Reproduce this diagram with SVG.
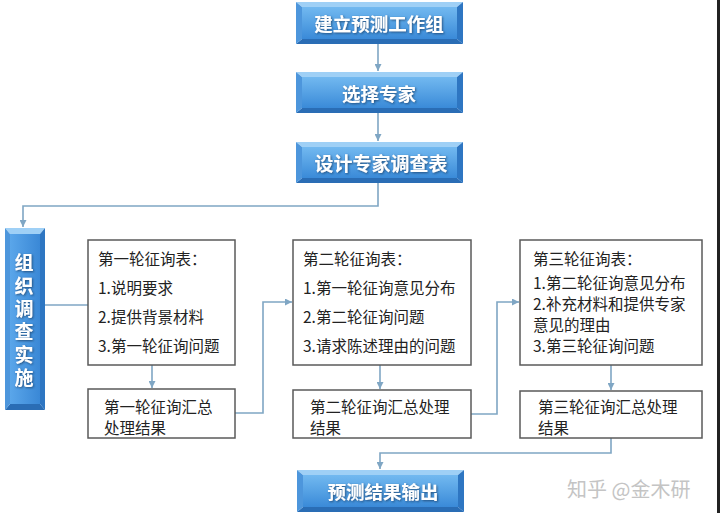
<svg xmlns="http://www.w3.org/2000/svg" width="720" height="513" viewBox="0 0 720 513">
<defs>
  <linearGradient id="face" x1="0" y1="0" x2="0" y2="1">
    <stop offset="0" stop-color="#72b9f0"/>
    <stop offset="1" stop-color="#3a8ad8"/>
  </linearGradient>
  <linearGradient id="faceV" x1="0" y1="0" x2="1" y2="0">
    <stop offset="0" stop-color="#5aa6ea"/>
    <stop offset="1" stop-color="#3a88d6"/>
  </linearGradient>
  <marker id="arr" viewBox="0 0 8 8" refX="8" refY="4" markerWidth="7" markerHeight="7" markerUnits="userSpaceOnUse" orient="auto">
    <path d="M0,0 L8,4 L0,8 z" fill="#7fa6c4"/>
  </marker>
  <filter id="sh" x="-20%" y="-30%" width="140%" height="160%">
    <feDropShadow dx="1" dy="1" stdDeviation="0.8" flood-color="#1a3d66" flood-opacity="0.8"/>
  </filter>
</defs>
<style>
  .bt{fill:#9fd0f6}
  .bb{fill:#2a6db5}
  .bl{fill:#4d96dc}
  .br{fill:#2e76c2}
  .bf{fill:url(#face)}
  .bfv{fill:url(#faceV)}
  .ht{font-family:"Noto Sans CJK SC","Noto Sans",sans-serif;font-weight:bold;fill:#ffffff;text-anchor:middle;dominant-baseline:central;filter:url(#sh)}
  .box{fill:#ffffff;stroke:#5a5a5a;stroke-width:1.5}
  .t{font-family:"Noto Sans CJK SC","Noto Sans",sans-serif;font-size:15.5px;fill:#222222;dominant-baseline:central}
  .c{fill:none;stroke:#7fa6c4;stroke-width:1.6}
  .wm{font-family:"Noto Sans CJK SC","Noto Sans",sans-serif;font-size:20px;fill:#c4c4c4;dominant-baseline:central}
</style>
<rect x="0" y="0" width="720" height="513" fill="#ffffff"/>

<g id="connectors">
  <path class="c" d="M378,44 V71" marker-end="url(#arr)"/>
  <path class="c" d="M378,113 V141" marker-end="url(#arr)"/>
  <path class="c" d="M378,183 V206 H23 V227" marker-end="url(#arr)"/>
  <path class="c" d="M45,305 H88"/>
  <path class="c" d="M152,365 V388" marker-end="url(#arr)"/>
  <path class="c" d="M235,413 H263 V302 H292" marker-end="url(#arr)"/>
  <path class="c" d="M380,365 V389" marker-end="url(#arr)"/>
  <path class="c" d="M471,414 H497 V302 H519" marker-end="url(#arr)"/>
  <path class="c" d="M611,365 V390" marker-end="url(#arr)"/>
  <path class="c" d="M611,438 V453 H380 V469" marker-end="url(#arr)"/>
</g>

<g id="n-build">
  <polygon class="bt" points="296,2 463,2 457,7 302,7"/>
  <polygon class="bb" points="296,44 463,44 457,39 302,39"/>
  <polygon class="bl" points="296,2 302,7 302,39 296,44"/>
  <polygon class="br" points="463,2 457,7 457,39 463,44"/>
  <rect class="bf" x="302" y="7" width="155" height="32"/>
  <text class="ht" x="379" y="23" font-size="18.5">建立预测工作组</text>
</g>

<g id="n-select">
  <polygon class="bt" points="296,72 463,72 457,77 302,77"/>
  <polygon class="bb" points="296,113 463,113 457,108 302,108"/>
  <polygon class="bl" points="296,72 302,77 302,108 296,113"/>
  <polygon class="br" points="463,72 457,77 457,108 463,113"/>
  <rect class="bf" x="302" y="77" width="155" height="31"/>
  <text class="ht" x="379" y="92.5" font-size="18.5">选择专家</text>
</g>

<g id="n-design">
  <polygon class="bt" points="296,142 463,142 457,147 302,147"/>
  <polygon class="bb" points="296,183 463,183 457,178 302,178"/>
  <polygon class="bl" points="296,142 302,147 302,178 296,183"/>
  <polygon class="br" points="463,142 457,147 457,178 463,183"/>
  <rect class="bf" x="302" y="147" width="155" height="31"/>
  <text class="ht" x="381" y="162.5" font-size="19">设计专家调查表</text>
</g>

<g id="n-organize">
  <polygon class="bt" points="5,228 45,228 40,234 10,234"/>
  <polygon class="bb" points="5,410 45,410 40,404 10,404"/>
  <polygon class="bl" points="5,228 10,234 10,404 5,410"/>
  <polygon class="br" points="45,228 40,234 40,404 45,410"/>
  <rect class="bfv" x="10" y="234" width="30" height="170"/>
  <text class="ht" x="24" y="322" font-size="19" writing-mode="vertical-rl" letter-spacing="4">组织调查实施</text>
</g>

<g id="n-round1">
  <rect class="box" x="88" y="240" width="147" height="125"/>
  <text class="t" x="98" y="258">第一轮征询表：</text>
  <text class="t" x="98" y="287">1.说明要求</text>
  <text class="t" x="98" y="316">2.提供背景材料</text>
  <text class="t" x="98" y="345">3.第一轮征询问题</text>
</g>

<g id="n-sum1">
  <rect class="box" x="88" y="389" width="147" height="49"/>
  <text class="t" x="104" y="406">第一轮征询汇总<tspan x="104" dy="20.5">处理结果</tspan></text>
</g>

<g id="n-round2">
  <rect class="box" x="293" y="240" width="178" height="125"/>
  <text class="t" x="303" y="258">第二轮征询表：</text>
  <text class="t" x="303" y="287">1.第一轮征询意见分布</text>
  <text class="t" x="303" y="316">2.第二轮征询问题</text>
  <text class="t" x="303" y="345">3.请求陈述理由的问题</text>
</g>

<g id="n-sum2">
  <rect class="box" x="293" y="390" width="178" height="48"/>
  <text class="t" x="310" y="406">第二轮征询汇总处理<tspan x="310" dy="20.5">结果</tspan></text>
</g>

<g id="n-round3">
  <rect class="box" x="520" y="240" width="182" height="125"/>
  <text class="t" x="533" y="258">第三轮征询表：</text>
  <text class="t" x="533" y="282">1.第二轮征询意见分布<tspan x="533" dy="21">2.补充材料和提供专家</tspan><tspan x="533" dy="20.5">意见的理由</tspan></text>
  <text class="t" x="533" y="345">3.第三轮征询问题</text>
</g>

<g id="n-sum3">
  <rect class="box" x="520" y="391" width="182" height="47"/>
  <text class="t" x="538" y="406">第三轮征询汇总处理<tspan x="538" dy="20.5">结果</tspan></text>
</g>

<g id="n-output">
  <polygon class="bt" points="297,470 464,470 458,475 303,475"/>
  <polygon class="bb" points="297,512 464,512 458,507 303,507"/>
  <polygon class="bl" points="297,470 303,475 303,507 297,512"/>
  <polygon class="br" points="464,470 458,475 458,507 464,512"/>
  <rect class="bf" x="303" y="475" width="155" height="32"/>
  <text class="ht" x="383" y="491" font-size="18.5">预测结果输出</text>
</g>

<text class="wm" x="567" y="488">知乎 @金木研</text>
<rect x="717" y="0" width="3" height="513" fill="#222222"/>
</svg>
